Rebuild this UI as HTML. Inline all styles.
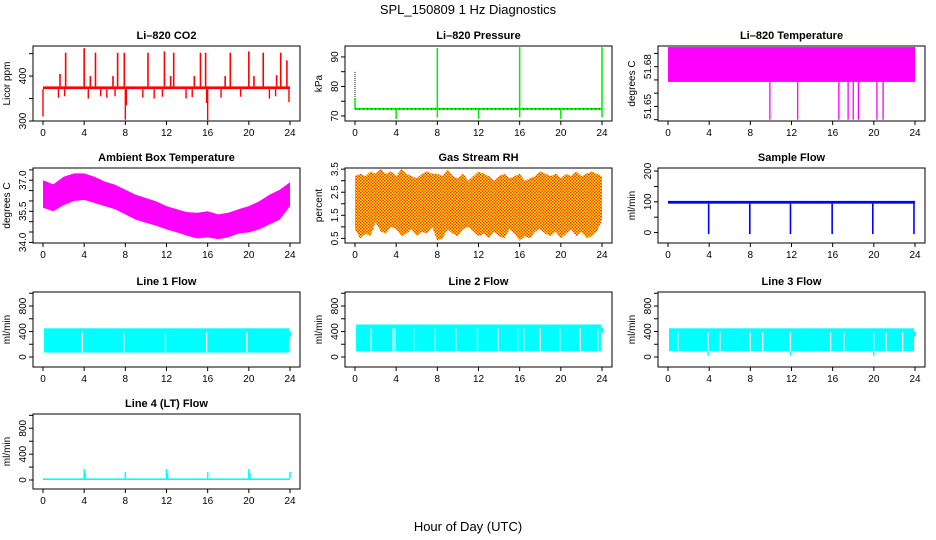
<!DOCTYPE html>
<html><head><meta charset="utf-8"><style>
html,body{margin:0;padding:0;background:#fff;}
svg{display:block;font-family:"Liberation Sans",sans-serif;}
</style></head><body>
<svg id="chart" width="936" height="540" viewBox="0 0 936 540" xmlns="http://www.w3.org/2000/svg">
<defs>
<pattern id="rhpat" width="3" height="3" patternUnits="userSpaceOnUse">
<rect width="3" height="3" fill="#ffff00"/><rect x="0" y="0" width="1.5" height="1.5" fill="#ff2020"/><rect x="1.5" y="1.5" width="1.5" height="1.5" fill="#ff2020"/>
</pattern>
</defs>
<text x="468" y="14" text-anchor="middle" font-size="13">SPL_150809  1 Hz Diagnostics</text>
<text x="468" y="531" text-anchor="middle" font-size="13">Hour of Day (UTC)</text>
</svg>
<script>
// ---- data ----
const xTicks = [0,4,8,12,16,20,24];
const co2Base = [371,377];
const co2SpikesUp = [[2.2,452],[4.0,462],[5.1,452],[7.25,452],[7.9,452],[10.2,452],[11.8,455],[12.7,452],[15.3,452],[15.8,452],[18.2,452],[20.0,455],[21.4,452],[23.1,452],[23.7,435]];
const co2SpikesMid = [[1.65,405],[4.6,400],[6.8,400],[12.4,400],[14.7,400],[17.7,400],[20.5,400],[22.7,402]];
const co2SpikesDown = [[0.0,310],[8.0,303],[16.0,302],[8.1,335],[15.9,340],[23.9,342],[1.5,352],[2.1,355],[4.4,350],[5.6,355],[6.2,352],[7.0,355],[9.7,352],[10.8,350],[11.6,354],[13.9,350],[14.5,353],[17.3,352],[19.2,354],[22.0,350],[22.6,355]];
const presBase = 72.4;
const presSpikesUp = [[8.0,93],[16.0,93.3],[24.0,93.3],[0.0,76]];
const presSpikesDown = [[4.0,69],[12.0,69],[20.0,69],[8.0,69.5],[16.0,69.5],[24.0,69.5]];
const tempBand = [51.6685,51.6948];
const tempSpikes = [9.9,12.6,16.6,17.5,18.0,18.5,20.3,20.9];
const ambHours = [0,1,2,3,4,5,6,7,8,9,10,11,12,13,14,15,16,17,18,19,20,21,22,23,24];
const ambHi = [37.0,36.8,37.17,37.33,37.33,37.17,36.93,36.78,36.54,36.3,36.14,35.98,35.75,35.6,35.46,35.43,35.5,35.35,35.43,35.6,35.75,35.98,36.3,36.54,36.9];
const ambLo = [35.67,35.5,35.8,36.0,36.05,35.9,35.75,35.6,35.35,35.1,34.95,34.8,34.63,34.48,34.32,34.19,34.24,34.16,34.24,34.43,34.48,34.63,34.87,35.1,35.75];
const rhHi = [3.2,3.3,3.2,3.4,3.3,3.5,3.3,3.4,3.2,3.5,3.3,3.2,3.1,3.3,3.4,3.3,3.3,3.2,3.5,3.2,3.1,3.3,3.0,3.2,3.4,3.3,3.2,3.0,3.2,3.3,3.1,3.2,3.3,3.0,3.1,3.2,3.4,3.3,3.2,3.3,3.1,3.3,3.2,3.4,3.2,3.3,3.4,3.3,3.2];
const rhLo = [0.9,0.5,0.7,0.6,1.2,0.8,0.7,1.0,0.9,0.6,0.7,0.9,0.6,0.8,0.7,1.0,0.4,0.5,0.9,0.7,0.6,0.9,1.0,0.8,0.6,0.7,0.5,0.8,0.6,0.5,0.9,0.7,0.4,0.6,0.5,0.8,0.9,0.7,0.6,0.8,0.5,0.7,0.9,0.6,0.8,0.5,0.6,0.8,1.3];
const sfBand = [94,103];
const sfDrops = [3.95,7.95,11.9,15.95,19.9,23.9];
const l1Band = [70,450];
const l1Gaps = [3.83,7.86,11.9,15.9,19.8];
const l2Band = [90,510];
const l2Gaps = [1.56,3.7,3.9,5.7,7.8,9.8,11.9,13.9,15.8,16.4,18.0,19.9,21.9,23.6];
const l3Band = [90,450];
const l3Gaps = [0.97,3.9,5.06,8.0,9.2,11.9,15.8,17.1,20.0,21.2,22.8];
const l3Dips = [[3.9,20],[11.9,20],[20.0,20]];
const l4Base = [0,25];
const l4Spikes = [[4.0,170],[12.0,170],[20.0,170],[8.0,125],[16.0,125],[24.0,125],[4.1,110],[12.1,110],[20.1,110]];

// ---- drawing ----
const svg = document.getElementById('chart');
const NS = 'http://www.w3.org/2000/svg';
function mk(tag, attrs, parent){const e=document.createElementNS(NS,tag);for(const k in attrs)e.setAttribute(k,attrs[k]);(parent||svg).appendChild(e);return e;}
const colL=[33,345,658], rowT=[46,168,292,414], W=267, H=75;

function panel(name,col,row,ymin,ymax,ticks,labels,title,ylab){
  const g=mk('g',{});
  
  
  const L=colL[col],T=rowT[row];
  const x=h=>L+10+h*(W-20)/24;
  const y=v=>T+H-(v-ymin)/(ymax-ymin)*H;
  const clip=mk('clipPath',{id:'clip-'+name},g);mk('rect',{x:L,y:T,width:W,height:H},clip);
  const plot=mk('g',{'clip-path':'url(#clip-'+name+')'},g);
  
  
  const t=mk('text',{x:L+W/2,y:T-7,'text-anchor':'middle','font-size':11,'font-weight':'bold'},g);t.textContent=title;
  
  
  const yl=mk('text',{x:0,y:0,'text-anchor':'middle','font-size':10,transform:`translate(${L-23},${T+H/2}) rotate(-90)`},g);yl.textContent=ylab;
  
  
  xTicks.forEach(h=>{mk('line',{x1:x(h),x2:x(h),y1:T+H,y2:T+H+4,stroke:'#000'},g);
    if(row===3||(row===2&&col===0)){const tx=mk('text',{x:x(h),y:T+H+15,'text-anchor':'middle','font-size':10},g);tx.textContent=h;
      
      }
    else{const tx=mk('text',{x:x(h),y:T+H+15,'text-anchor':'middle','font-size':10},g);tx.textContent=h;
      
      }
  });
  ticks.forEach((v,i)=>{mk('line',{x1:L-4,x2:L,y1:y(v),y2:y(v),stroke:'#000'},g);
    if(labels[i]!==''){const tx=mk('text',{x:0,y:0,'text-anchor':'middle','font-size':10,transform:`translate(${L-7},${y(v)}) rotate(-90)`},g);tx.textContent=labels[i];
      
      }
  });
  const box=mk('rect',{x:L,y:T,width:W,height:H,fill:'none',stroke:'#000','stroke-width':1},g);
  
  
  return {plot,x,y};
}
function vline(p,h,v1,v2,c,w){return mk('line',{x1:p.x(h),x2:p.x(h),y1:p.y(v1),y2:p.y(v2),stroke:c,'stroke-width':w||1.3},p.plot);}
function band(p,h1,h2,lo,hi,fill){return mk('rect',{x:p.x(h1),y:p.y(hi),width:p.x(h2)-p.x(h1),height:p.y(lo)-p.y(hi),fill},p.plot);}

// CO2
let p=panel('co2',0,0,300,467,[300,350,400,450],['300','','400',''],'Li\u2013820 CO2','Licor ppm');
band(p,0,24,co2Base[0],co2Base[1],'#ff0000');
co2SpikesUp.concat(co2SpikesMid).forEach(s=>vline(p,s[0],co2Base[1],s[1],'#ff0000',1.6));
co2SpikesDown.forEach(s=>vline(p,s[0],co2Base[0],s[1],'#ff0000',1.4));

// Pressure
p=panel('pressure',1,0,68.3,93.7,[70,75,80,85,90],['70','','80','','90'],'Li\u2013820 Pressure','kPa');
mk('line',{x1:p.x(0),x2:p.x(24),y1:p.y(presBase),y2:p.y(presBase),stroke:'#00ee00','stroke-width':2},p.plot);
mk('line',{x1:p.x(0),x2:p.x(24),y1:p.y(presBase),y2:p.y(presBase),stroke:'#000','stroke-width':1,'stroke-dasharray':'1,3'},p.plot);
vline(p,0,presBase,85,'#000',1).setAttribute('stroke-dasharray','1,1');
presSpikesUp.forEach(s=>vline(p,s[0],presBase,s[1],'#00ee00',1.5));
presSpikesDown.forEach(s=>vline(p,s[0],presBase,s[1],'#00ee00',1.5));

// Li temp
p=panel('li-temp',2,0,51.639,51.6956,[51.64,51.65,51.66,51.67,51.68,51.69],['','51.65','','','51.68',''],'Li\u2013820 Temperature','degrees C');
band(p,0,24,tempBand[0],tempBand[1],'#ff00ff');
tempSpikes.forEach(h=>vline(p,h,tempBand[0],51.64,'#ff00ff',1.3));

// Ambient
p=panel('ambient-temp',0,1,33.97,37.59,[34,34.5,35,35.5,36,36.5,37,37.5],['34.0','','','35.5','','','37.0',''],'Ambient Box Temperature','degrees C');
{let pts=ambHours.map((h,i)=>p.x(h)+','+p.y(ambHi[i]));for(let i=ambHours.length-1;i>=0;i--)pts.push(p.x(ambHours[i])+','+p.y(ambLo[i]));
 const e=mk('polygon',{points:pts.join(' '),fill:'#ff00ff'},p.plot);}

// RH
p=panel('rh',1,1,0.3,3.55,[0.5,1,1.5,2,2.5,3,3.5],['0.5','','1.5','','2.5','','3.5'],'Gas Stream RH','percent');
{const n=rhHi.length;let pts=[];rhHi.forEach((v,i)=>{const h=i*24/(n-1);pts.push(p.x(h)+','+p.y(v));});
 for(let i=n-1;i>=0;i--){const h=i*24/(n-1);pts.push(p.x(h)+','+p.y(rhLo[i]));}
 const e=mk('polygon',{points:pts.join(' '),fill:'url(#rhpat)'},p.plot);}

// Sample flow
p=panel('sample-flow',2,1,-34,210,[0,50,100,150,200],['0','','100','','200'],'Sample Flow','ml/min');
band(p,0,24,sfBand[0],sfBand[1],'#0000ff');
sfDrops.forEach(h=>vline(p,h,sfBand[0],-5,'#0000ff',1.6));

// Line flows
function flow(name,col,row,title,bnd,gaps,dips){
  const q=panel(name,col,row,-157,1020,[0,200,400,600,800,1000],['0','','400','','800',''],title,'ml/min');
  band(q,0.1,23.9,bnd[0],bnd[1],'#00ffff');
  gaps.forEach(h=>vline(q,h,bnd[0]+10,bnd[1]-60,'#ffffff',1.3));
  (dips||[]).forEach(d=>vline(q,d[0],bnd[0],d[1],'#00ffff',1.5));
  vline(q,24,bnd[1]-50,bnd[1]-130,'#00ffff',2);
  return q;
}
flow('line1-flow',0,2,'Line 1 Flow',l1Band,l1Gaps);
flow('line2-flow',1,2,'Line 2 Flow',l2Band,l2Gaps);
flow('line3-flow',2,2,'Line 3 Flow',l3Band,l3Gaps,l3Dips);
p=panel('line4-flow',0,3,-139,1021,[0,200,400,600,800,1000],['0','','400','','800',''],'Line 4 (LT) Flow','ml/min');
band(p,0,24,l4Base[0],l4Base[1],'#00ffff');
l4Spikes.forEach(s=>vline(p,s[0],l4Base[1],s[1],'#00ffff',1.5));
</script>
</body></html>
